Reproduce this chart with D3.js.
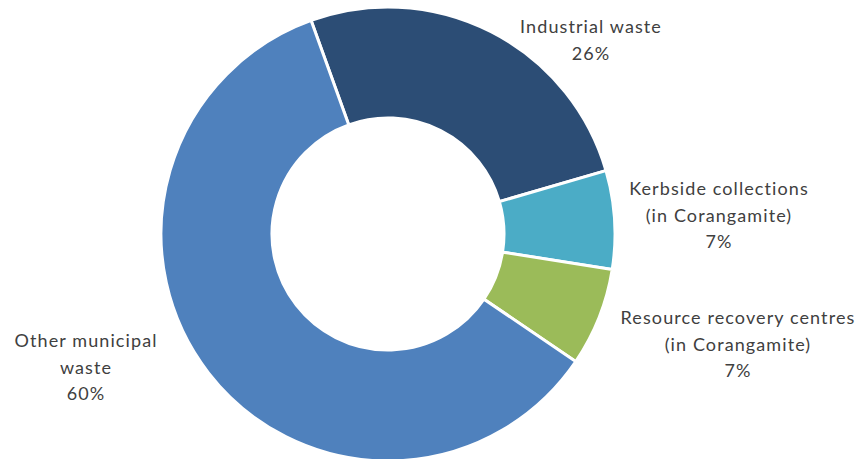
<!DOCTYPE html>
<html lang="en">
<head>
<meta charset="utf-8">
<title>Waste sources donut</title>
<script src="https://d3js.org/d3.v7.min.js"></script>
<style>
  body { margin: 0; background: #fff; }
  svg { display: block; }
  .lbl { font-family: Lato, "Open Sans", sans-serif; font-size: 18px; letter-spacing: 1.1px; fill: #404040; }
</style>
</head>
<body>
<div id="chart"></div>
<script>
// data
var categories = ["Industrial waste", "Kerbside collections (in Corangamite)", "Resource recovery centres (in Corangamite)", "Other municipal waste"];
var values = [26, 7, 7, 60];
var pctLabels = ["26%", "7%", "7%", "60%"];
var labelLines = [
  ["Industrial waste", "26%"],
  ["Kerbside collections", "(in Corangamite)", "7%"],
  ["Resource recovery centres", "(in Corangamite)", "7%"],
  ["Other municipal", "waste", "60%"]
];
var colors = ["#2C4D75", "#4BACC6", "#9BBB59", "#4F81BD"];

var w = 859, h = 459;
var cx = 388, cy = 234, outerR = 227, innerR = 116;

var svg = d3.select("#chart").append("svg")
  .attr("width", w)
  .attr("height", h);

var startA = -19.8 * Math.PI / 180;
var pie = d3.pie()
  .sort(null)
  .startAngle(startA)
  .endAngle(startA + 2 * Math.PI)
  .value(function(d) { return d; });

var arc = d3.arc().innerRadius(innerR).outerRadius(outerR);

var g = svg.append("g").attr("transform", "translate(" + [cx, cy] + ")");

g.selectAll("path")
  .data(pie(values))
  .enter()
  .append("path")
  .attr("d", arc)
  .attr("fill", function(d, i) { return colors[i]; })
  .attr("stroke", "#fff")
  .attr("stroke-width", 3);

// label anchors (centre x, first line baseline y)
var labelPos = [[591, 33], [719, 195], [738, 324], [86, 347]];
var lineH = 26.5;

svg.selectAll("text.lbl")
  .data(labelLines)
  .enter()
  .append("text")
  .attr("class", "lbl")
  .attr("text-anchor", "middle")
  .each(function(lines, i) {
    var t = d3.select(this);
    lines.forEach(function(s, k) {
      t.append("tspan")
        .attr("x", labelPos[i][0])
        .attr("y", labelPos[i][1] + k * lineH)
        .text(s);
    });
  });
</script>
</body>
</html>
